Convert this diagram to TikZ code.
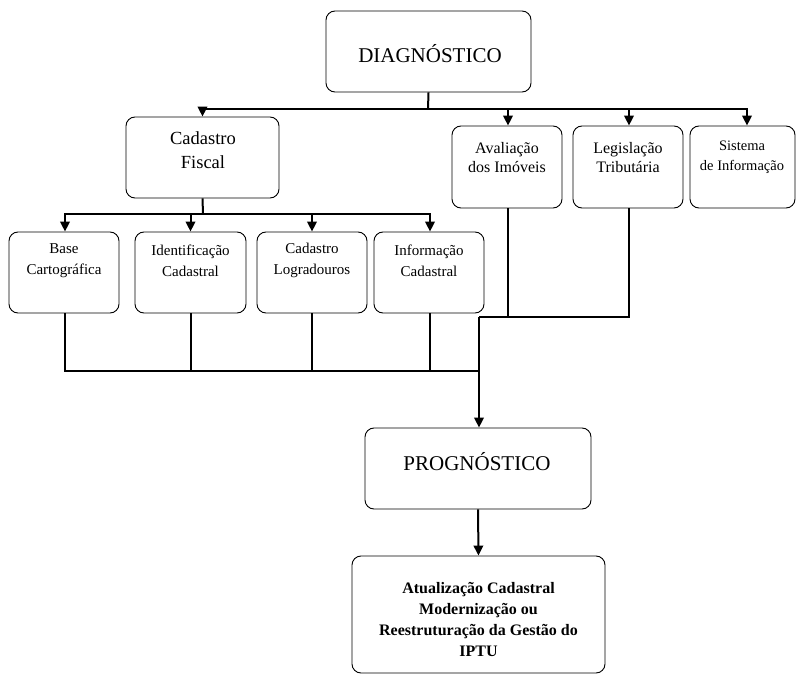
\documentclass[tikz,border=0pt]{standalone}
\usepackage{fontspec}
\setmainfont{Liberation Serif}
\usetikzlibrary{arrows.meta}
\tikzset{
  box/.style={draw=black, line width=0.9pt, rounded corners=9pt, fill=white, inner sep=0pt},
  txt/.style={align=center, inner sep=0pt, text=black},
  conn/.style={line width=2pt, black},
  arr/.style={conn, -{Triangle[width=9.5pt,length=10pt]}},
}
\newcommand{\fs}[2]{\fontsize{#1}{#2}\selectfont}
\begin{document}
\begin{tikzpicture}[x=1pt,y=-1pt]
\useasboundingbox[fill=white] (0,0) rectangle (796,674);
% boxes
\node[box, minimum width=205pt, minimum height=81pt] (diag) at (428.5,51.5) {};
\node[box, minimum width=153pt, minimum height=81pt] (cf) at (202.5,157.5) {};
\node[box, minimum width=110pt, minimum height=82pt] (av) at (507,167) {};
\node[box, minimum width=110pt, minimum height=82pt] (leg) at (628,167) {};
\node[box, minimum width=105pt, minimum height=82pt] (sis) at (742.5,167) {};
\node[box, minimum width=110pt, minimum height=81pt] (base) at (64,272.5) {};
\node[box, minimum width=111pt, minimum height=81pt] (ident) at (190.5,272.5) {};
\node[box, minimum width=110pt, minimum height=81pt] (logr) at (312,272.5) {};
\node[box, minimum width=110pt, minimum height=81pt] (info) at (429,272.5) {};
\node[box, minimum width=226pt, minimum height=81pt] (prog) at (478,468.5) {};
\node[box, minimum width=253pt, minimum height=117pt] (fin) at (478.5,614.5) {};
% texts
\node[txt, font=\fs{21}{25}] (diagt) at (430,54) {DIAGNÓSTICO};
\node[txt, font=\fs{18.5}{24}] (cft) at (203,150) {Cadastro\\Fiscal};
\node[txt, font=\fs{16}{19.5}] (avt) at (507,157.5) {Avaliação\\dos Imóveis};
\node[txt, font=\fs{16}{19.5}] (legt) at (628,157.5) {Legislação\\Tributária};
\node[txt, font=\fs{14.5}{20}] (sist) at (742,157) {Sistema\\de Informação};
\node[txt, font=\fs{15}{21}] (baset) at (64,260.5) {Base\\Cartográfica};
\node[txt, font=\fs{15}{21}] (identt) at (190.5,260.5) {Identificação\\Cadastral};
\node[txt, font=\fs{15}{21}] (logrt) at (312,260.5) {Cadastro\\Logradouros};
\node[txt, font=\fs{15}{21}] (infot) at (429,260.5) {Informação\\Cadastral};
\node[txt, font=\fs{21}{25}] (progt) at (477,462) {PROGNÓSTICO};
\node[txt, font=\bfseries\fs{16}{21}] (fint) at (478.5,619) {Atualização Cadastral\\Modernização ou\\Reestruturação da Gestão do\\IPTU};
% connectors: level 1
\coordinate (j1) at (428,109);
\draw[conn] (diag.south) -- (j1);
\draw[arr] (j1) -| (cf.north);
\draw[arr] (j1) -| ([xshift=1pt]av.north);
\draw[arr] (j1) -| ([xshift=1pt]leg.north);
\draw[arr] (j1) -| ([xshift=4.5pt]sis.north);
% level 2
\coordinate (j2) at (203,214);
\draw[conn] (cf.south) -- (j2);
\draw[arr] (j2) -| ([xshift=1pt]base.north);
\draw[arr] (j2) -| (ident.north);
\draw[arr] (j2) -| (logr.north);
\draw[arr] (j2) -| ([xshift=1pt]info.north);
% merge lower boxes
\coordinate (j3) at (479,371);
\coordinate (j4) at (479,317);
\draw[conn] ([xshift=1pt]base.south) |- (j3);
\draw[conn] (ident.south) -- (ident.south |- j3);
\draw[conn] (logr.south) -- (logr.south |- j3);
\draw[conn] ([xshift=1pt]info.south) -- ([xshift=1pt]info.south |- j3);
\draw[conn] ([xshift=1pt]av.south) |- (j4);
\draw[conn] ([xshift=1pt]leg.south) |- (j4);
\draw[arr] (j4) -- (prog.north -| j4);
\draw[arr] (prog.south) -- (fin.north);
\end{tikzpicture}
\end{document}
